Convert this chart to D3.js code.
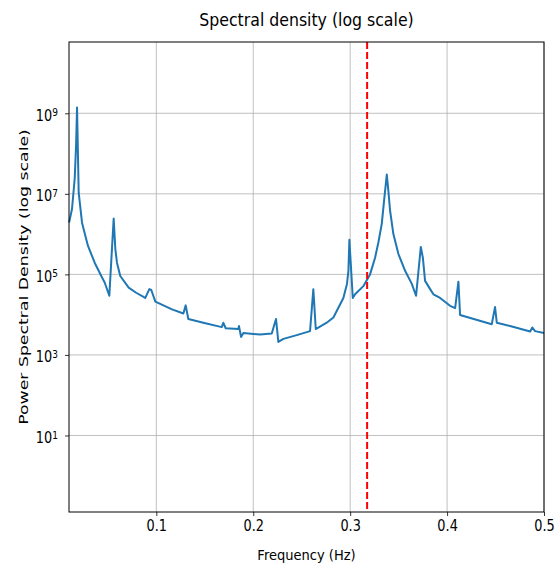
<!DOCTYPE html>
<html>
<head>
<meta charset="utf-8">
<script src="https://cdn.jsdelivr.net/npm/d3@7"></script>
<style>
  body { margin: 0; background: #fff; }
  text { font-family: "DejaVu Sans", sans-serif; fill: #000; }
</style>
</head>
<body>
<div id="chart"></div>
<script>
// frequency (Hz) and PSD
const freqs = [0.0100, 0.0130, 0.0158, 0.0172, 0.0182, 0.0199, 0.0233, 0.0251, 0.0295, 0.0364,
    0.0432, 0.0467, 0.0515, 0.0560, 0.0577, 0.0594, 0.0628, 0.0715, 0.0792, 0.0886,
    0.0928, 0.0948, 0.0990, 0.1162, 0.1279, 0.1303, 0.1330, 0.1485, 0.1675, 0.1691,
    0.1716, 0.1846, 0.1853, 0.1874, 0.1898, 0.2070, 0.2191, 0.2235, 0.2259, 0.2311,
    0.2449, 0.2586, 0.2620, 0.2645, 0.2758, 0.2827, 0.2930, 0.2967, 0.2982, 0.2992,
    0.3027, 0.3051, 0.3136, 0.3205, 0.3257, 0.3291, 0.3326, 0.3350, 0.3378, 0.3394,
    0.3412, 0.3446, 0.3498, 0.3567, 0.3636, 0.3680, 0.3729, 0.3750, 0.3773, 0.3825,
    0.3859, 0.3928, 0.4031, 0.4083, 0.4117, 0.4134, 0.4461, 0.4495, 0.4513, 0.4650,
    0.4857, 0.4880, 0.4908, 0.5000];
const psd = [1.95e6, 4.2e6, 2.4e7, 1.6e8, 1.4e9, 1.07e7, 1.95e6, 1.3e6, 5.1e5, 1.95e5,
    9.1e4, 6.3e4, 2.95e4, 2.45e6, 4.3e5, 1.95e5, 9.1e4, 4.7e4, 3.5e4, 2.6e4,
    4.3e4, 4.1e4, 2.1e4, 1.35e4, 1.07e4, 1.7e4, 7.8e3, 6.3e3, 4.9e3, 6.3e3,
    4.6e3, 4.4e3, 5.2e3, 2.8e3, 3.5e3, 3.2e3, 3.4e3, 7.8e3, 2.1e3, 2.5e3,
    3.1e3, 3.9e3, 4.3e4, 4.4e3, 6.3e3, 8.5e3, 2.6e4, 5.8e4, 1.23e5, 7.2e5,
    2.6e4, 3.2e4, 5.1e4, 1.0e5, 2.6e5, 6.2e5, 1.8e6, 6.8e6, 3.0e7, 1.2e7,
    3.8e6, 1.0e6, 3.2e5, 1.23e5, 5.8e4, 2.95e4, 4.8e5, 2.6e5, 6.9e4, 4.3e4,
    3.2e4, 2.6e4, 1.66e4, 1.45e4, 6.6e4, 9.8e3, 5.8e3, 1.55e4, 6.3e3, 5.2e3,
    3.8e3, 4.8e3, 3.9e3, 3.5e3];
const xTicks = [0.1, 0.2, 0.3, 0.4, 0.5];
const yTickExp = [1, 3, 5, 7, 9];
const cutoff = 0.3175;

const W = 559, H = 567;
const margin = { top: 42, right: 15, bottom: 55, left: 69 };
const width = W - margin.left - margin.right;
const height = H - margin.top - margin.bottom;
const squeeze = 0.86; // the reference text is narrowed horizontally

const data = freqs.map((f, i) => ({ f: f, p: psd[i] }));

const svg = d3.select("#chart").append("svg")
    .attr("width", W)
    .attr("height", H);

const g = svg.append("g")
    .attr("transform", "translate(" + margin.left + "," + margin.top + ")");

const xScale = d3.scaleLinear()
    .domain([0.0099, 0.5])
    .range([0, width]);

const yScale = d3.scaleLog()
    .domain([Math.pow(10, -0.9), Math.pow(10, 10.77)])
    .range([height, 0]);

// grid
g.selectAll(".xgrid").data(xTicks).enter().append("line")
    .attr("x1", d => xScale(d)).attr("x2", d => xScale(d))
    .attr("y1", 0).attr("y2", height)
    .attr("stroke", "#b0b0b0").attr("stroke-width", 0.8);
g.selectAll(".ygrid").data(yTickExp).enter().append("line")
    .attr("y1", d => yScale(Math.pow(10, d))).attr("y2", d => yScale(Math.pow(10, d)))
    .attr("x1", 0).attr("x2", width)
    .attr("stroke", "#b0b0b0").attr("stroke-width", 0.8);

// psd line
const line = d3.line()
    .x(d => xScale(d.f))
    .y(d => yScale(d.p));

g.append("path")
    .datum(data)
    .attr("d", line)
    .attr("fill", "none")
    .attr("stroke", "#1f77b4")
    .attr("stroke-width", 2)
    .attr("stroke-linejoin", "round");

// cutoff
g.append("line")
    .attr("x1", xScale(cutoff)).attr("x2", xScale(cutoff))
    .attr("y1", 0).attr("y2", height)
    .attr("stroke", "red")
    .attr("stroke-width", 2)
    .attr("stroke-dasharray", "7,3");

// axes
const xAxis = g.append("g")
    .attr("transform", "translate(0," + height + ")")
    .call(d3.axisBottom(xScale).tickValues(xTicks).tickFormat("").tickSizeOuter(0).tickSize(4));
const yAxis = g.append("g")
    .call(d3.axisLeft(yScale).tickValues(yTickExp.map(e => Math.pow(10, e))).tickFormat("").tickSizeOuter(0).tickSize(4));

[xAxis, yAxis].forEach(a => {
    a.select(".domain").remove();
    a.selectAll(".tick line").attr("stroke", "#000").attr("stroke-width", 0.8);
    a.selectAll(".tick text").remove();
});

xAxis.selectAll(".tick").append("text")
    .attr("transform", "translate(0,19) scale(" + squeeze + ",1)")
    .attr("text-anchor", "middle")
    .style("font-size", "15px")
    .attr("fill", "#000")
    .text(d => d3.format(".1f")(d));

// y tick labels with superscripts
yAxis.selectAll(".tick").each(function (d) {
    const t = d3.select(this).append("text")
        .attr("transform", "translate(-11,7) scale(" + squeeze + ",1)")
        .attr("text-anchor", "end")
        .style("font-size", "15px")
        .attr("fill", "#000");
    t.append("tspan").text("10");
    t.append("tspan").attr("dy", "-0.42em").style("font-size", "10.5px")
        .text(Math.round(Math.log10(d)));
});

// frame
g.append("rect")
    .attr("width", width).attr("height", height)
    .attr("fill", "none").attr("stroke", "#000").attr("stroke-width", 1);

// labels
svg.append("text")
    .attr("transform", "translate(" + (margin.left + width / 2) + ",26) scale(0.9,1)")
    .attr("text-anchor", "middle")
    .style("font-size", "17.5px")
    .text("Spectral density (log scale)");

svg.append("text")
    .attr("transform", "translate(" + (margin.left + width / 2) + ",560) scale(0.9,1)")
    .attr("text-anchor", "middle")
    .style("font-size", "14.5px")
    .text("Frequency (Hz)");

svg.append("text")
    .attr("transform", "translate(28," + (margin.top + height / 2) + ") scale(0.72,1) rotate(-90)")
    .attr("text-anchor", "middle")
    .style("font-size", "17.3px")
    .text("Power Spectral Density (log scale)");
</script>
</body>
</html>
